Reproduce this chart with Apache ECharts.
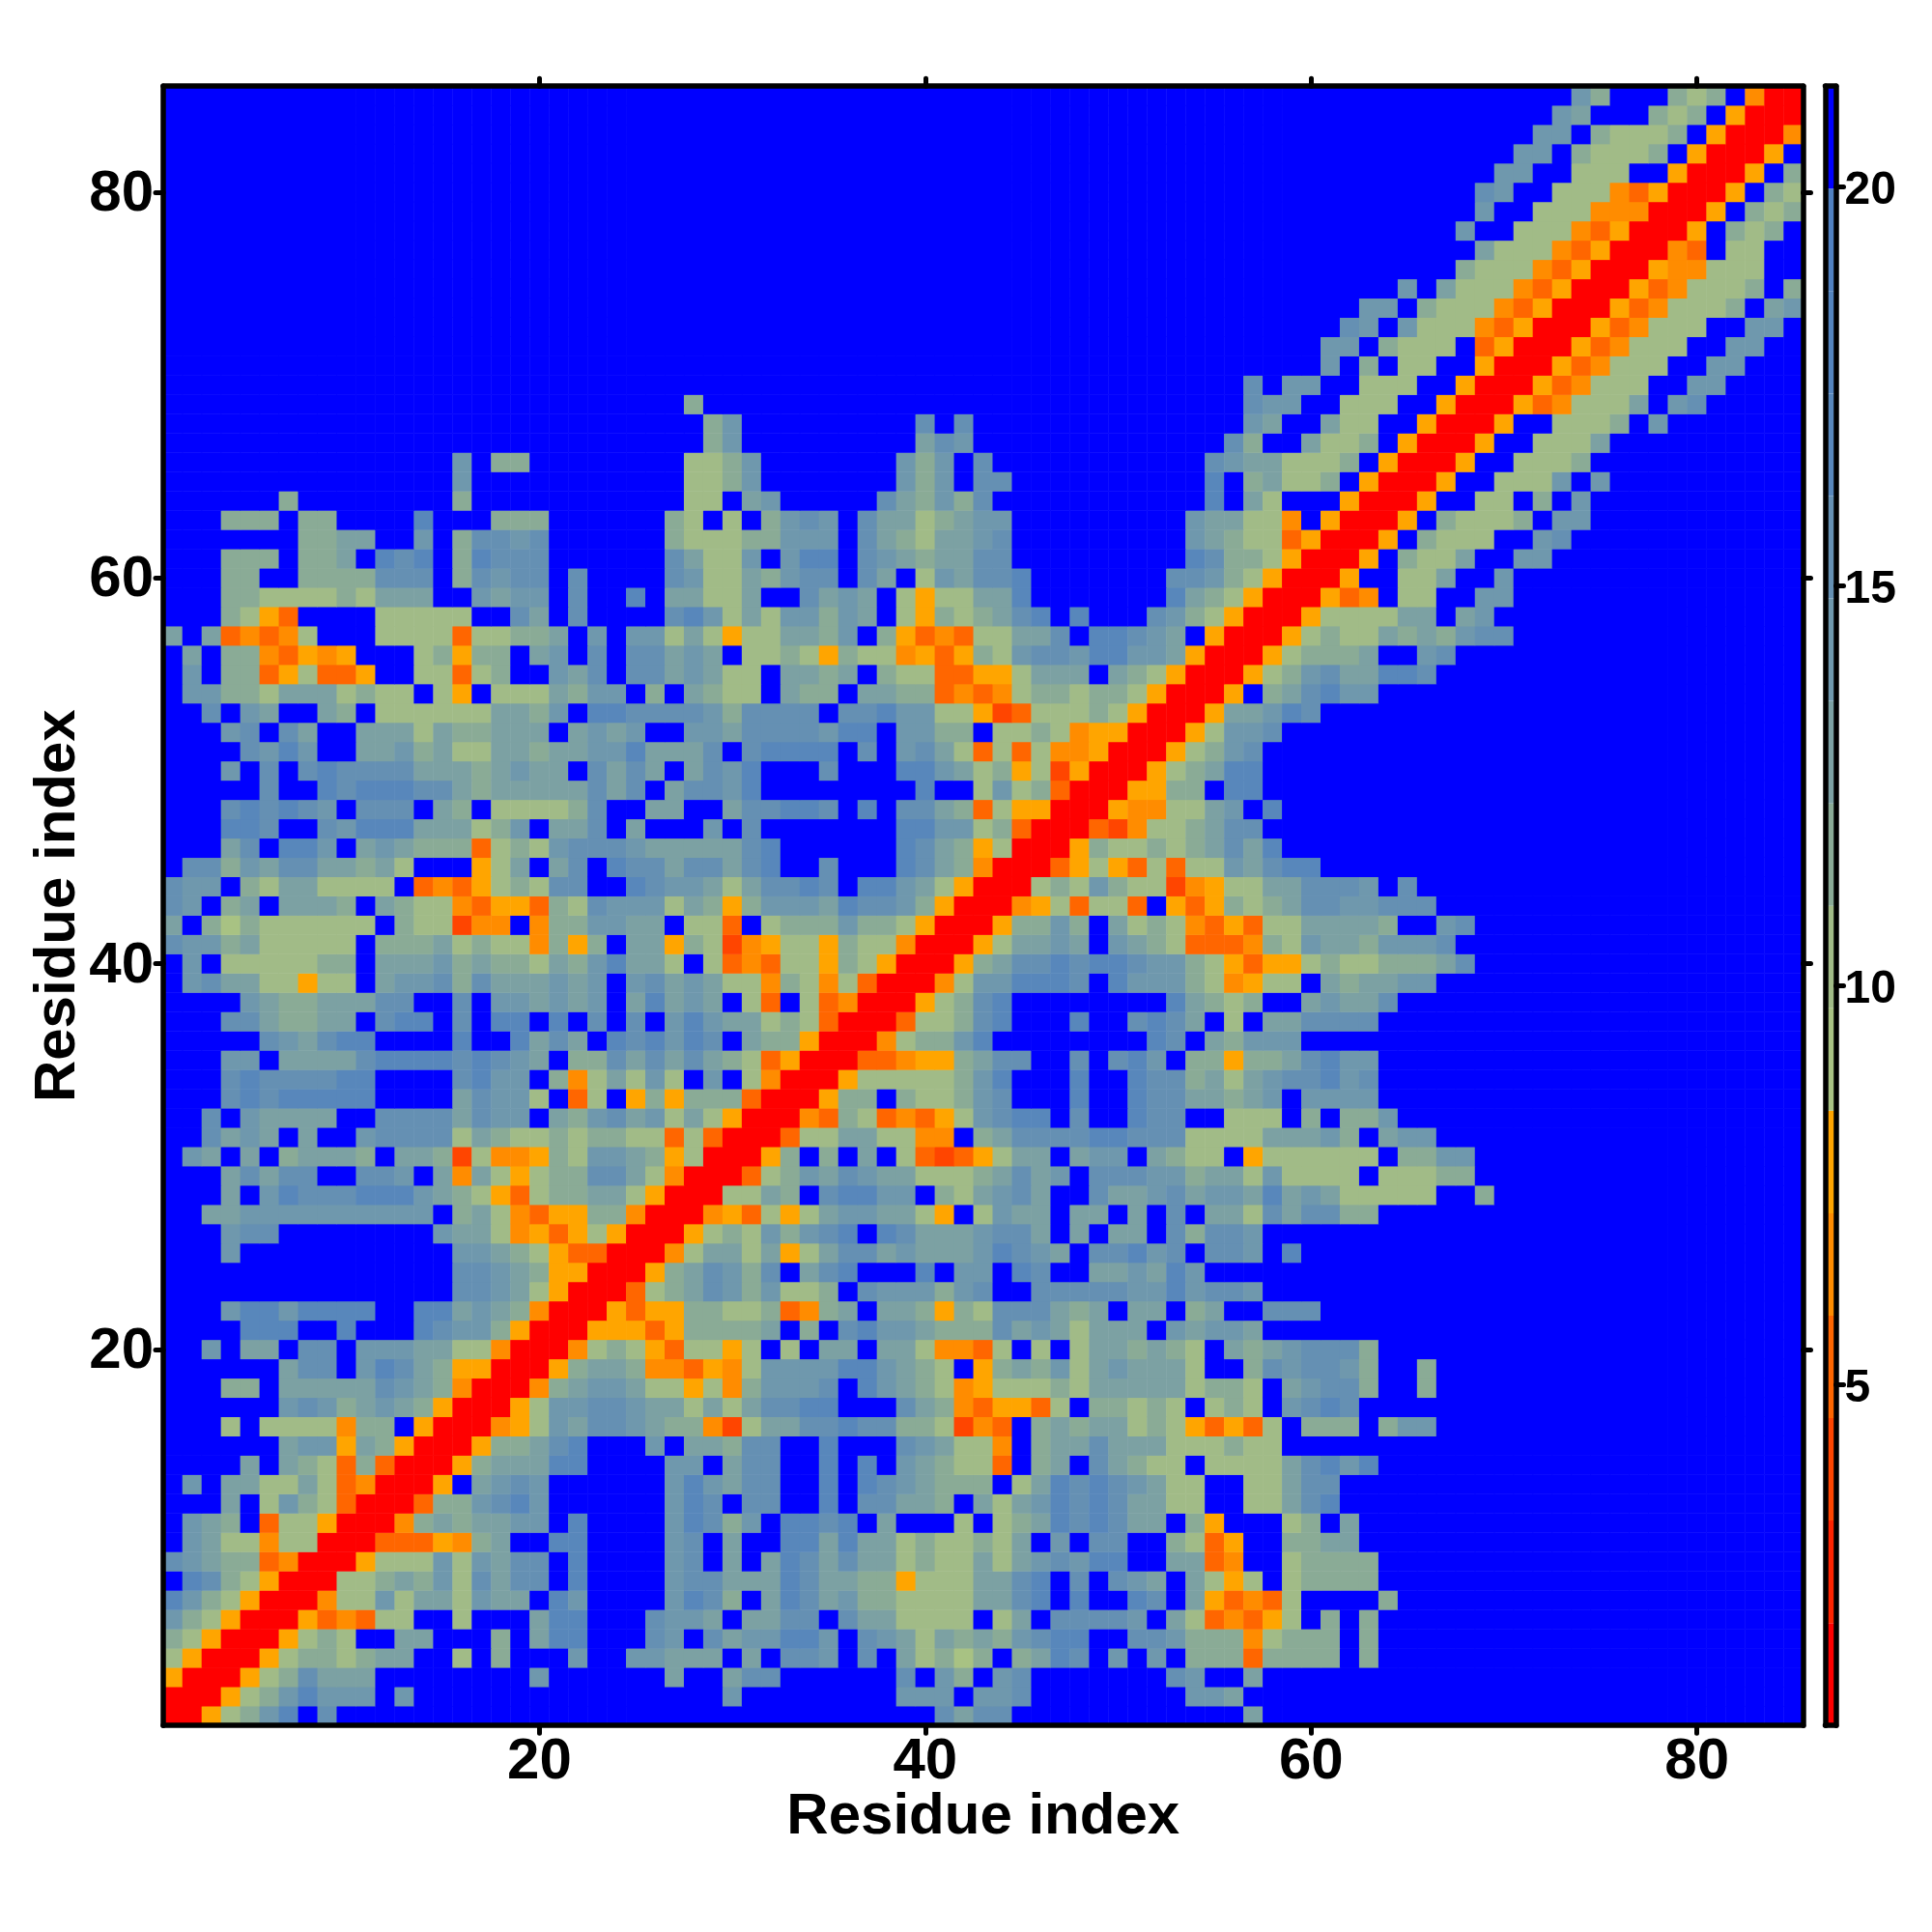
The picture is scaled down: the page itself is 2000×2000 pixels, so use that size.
<!DOCTYPE html>
<html><head><meta charset="utf-8">
<style>html,body{margin:0;padding:0;background:#fff}#c{width:2000px;height:2000px}</style>
<script src="https://cdn.jsdelivr.net/npm/echarts@6/dist/echarts.min.js"></script>
</head><body><div id="c"></div>
<script>
// Lower-left triangle of the symmetric residue matrix.
// One line per residue y (85 down to 1), holding x = 1..y. Each hex digit is a colour-bar level (0 = red, f = blue); "f*73" = a run.
const triangleRows = [
"f*73 a8 fff 878 f 400",
"f*72 a9 fff 878 f 5 00",
"f*71 aa f 8 777 8 f 5 00",
"f*70 aa f 8 777 8 f 5 00",
"f*69 aa ff 777 ff 5 00",
"f*68 ba ff 777 4 3 5 00",
"f*68 a ff 777 444 00",
"f*67 a ff 777 435 00",
"f*68 9 777 435 00",
"f*67 8 777 435 00",
"f*64 a f 9 777 435 00",
"f*62 aa f 8 777 435 00",
"f*61 ba f a 777 435 00",
"f*60 aa f 8 777 f 35 00",
"f*60 a f 8 f 77 ff 5 00",
"f*56 b f aa ff 777 ff 5 00",
"f*27 8 f*28 b aa ff 777 ff 5 00",
"f*28 8a f*9 b f b f*14 a9 ff 9 77 ff 5 00",
"f*28 8a f*9 9ba f*13 b8 ff 9 77 8 f 5 00",
"f*15 a f 88 f*8 778a f*7 a8a f b f*11 ba99 777 8 f 5 00",
"f*15 a f*11 77 8a f*7 a8a f bb f*10 c f 89 77 8 f 5 00",
"f*6 8 f*8 8 f*11 77 f 9a f*5 b98a8b f*11 c f 97 fff 5 00",
"fff 888 f 88 ffff c fff 888 f*6 8 7 f 7 f 8 a b a f b 99 7 8 9 aa f*9 a 99 77 4 f 5 00",
"f*7 88 99 ff a f 8 bb a b f*6 8 777 88 aaa f b 9 8 7 99 a b f*9 a 9 8 77 3 5 00",
"fff 888 f 88 9 f cbc f 8 c bbb f*6 b 9 77 a f a cc f b a 9 8 99 bb f*9 c b 88 7 5 00",
"fff 88 ff 88 88 bbb f 8 b a bb f b ffff b a 77 9 8 a bb f b 9 f 7 a 9 bb c f*7 bb a 8 7 5 00",
"fff 88 7777 8 7 999 ff a 9 aa f b ff c f 99 77 9 ff b 9 a 9 f 7 5 77 99 c f*7 c 9 8 7 5 00",
"fff 8 7 5 3 ffff 77777 ff b 9 f b ffff b c a 7 9 7 aa 8 a 9 f 7 5 8 7 8 9 b c f c fff b a 8 7 5 00",
"9f9 3434 7 fff 7777 3 77 8 8 9 f a f aa 7 9 7 5 77 99 8 a f 8 5 3 4 3 77 99 b f cc b a 9 f 5 00",
"f9f 88 4 3 5 4 5 fff 7 8 5 88 f 9 a f b f bb 9 a 9 f 77 8 7 5 8 77 4 5 3 5 8 7 a bb a cc aa 9 5 00",
"f a f 88 3 5 7 33 5 ff 77 3 7 8 ff a 9 b f bb 9 a 9 7 7 f 99 8 9 f 8 77 33 55 7 999 f 9 8 7 5 00",
"f aa 88 7 999 7 8 77 f 7 5 f 777 9 8 aa f 8 f 9 8 77 f 988 f 99 88 3434 7 88 7 88 7 5 00",
"ff b f a 9 ff 9 8 f 777777 99 8 a f cc bbbb a 8 bbbb f bb c aa 77 5 2 3 777 8 7 5 00",
"fff a b f b 9 ff 999 7 9 88 999 f 9 a 9 a ff aa 9 b bbb a cc f aa 88 f 77 8 7 4 55 00",
"ffff b a c a ff 99 a 8 9 77 99 8 99 aa c 999 b f b cccc f b f a b 9 7 3 7 3 7 44 5 00",
"fff a f b f b c bbbb 999 8 9 a 99 f b 9 b 9 f 9 b a c fff b fff cc a 9 7 8 5 7 2 5 00",
"f*5 b ff c b ccc bb 9 8 99999 b 9 b f 9 bb a c f*8 c ff 7 a 7 8 3 00",
"fff b c b c b a f bbb f 9 8 f 7777 8 b ff 99 ff 9 bb cc b f c f bb 9 8 3 7 55 00",
"fff cc b ff b a ccc 999 7 8 a f 99 b f 9 fff a f b f*7 cc aa 7 8 3 00",
"fff 9 b f cc a f 9 a 9 888 3 7 8 7 a bbb a 999 99 b c f*6 c b 9 8 5 7 00",
"f bb 8 a 9 bb 99 8 9 7 fff 5 7 9 f 9 b f c bb 9 bb 9 b c ff b fff c b 9 8 4 00",
"b aa f 8 7 99 7777 f 3 4 3 5 7 8 7 bb ff c b aa 9 7 9 bb c b f cc a 9 7 5 00",
"b a f 8 9 f 999 8 f 9 8 77 4 3 55 3 8 7 b aaa 7 9 8 5 8 aaa 9 c bb a 8 5 00",
"9 f 8 6 8 777777 f 8 77 2 44 f 4 88 aa 99 f 77 3 f 7 888 a 88 7 5 00",
"b aa 8 9 77777 f 888 9 7 8 77 4 8 5 8 f 99 5 8 7 2 4 5 77 5 8 77 4 00",
"f a f 77777 88 f 999 a 8 9 88 7 9 8 a c 99 7 f 7 3 4 3 77 5 8 7 5 00",
"f a b 99 77 5 77 f 9 aa b 8 b 999 a 9 a f a b 9 a 9 77 4 8 7 4 7 3 00",
"ffff a 9 88 999 bb ff b f aa 9 a 9 a f 9 c 9 a 9 f 7 3 f 7 3 4 00",
"fff bb 9 88 99 f b cc f b f cc f c f b f b f a c a 99 7 8 7 3 00",
"f*5 b a 9 b cc ffff c ff c 9 b 9 f c b c a c b f 9 88 5 00",
"fff aa f 9999 b cccc b c b a 9 f 88 b 9 b 9 b 9 8 7 3 5 00",
"fff b c bbbb cc ffff b c aa f 8 4 7 9 7 a 7 f a f 7 4 00",
"fff b c b ccccc ffff 9 b aa 7 f 3 7 f 5 8 5 88 8 3 00",
"ff b f a 9999 ff bbbb 9 b aa f 9 8 a b 9 a 7 9 7 5 00",
"ff b 9 a 9 f 9 ff a bbbb 7 9 8 77 8 7 88 77 3 7 3 00",
"f a 9 f 9 f 8 999 8 f 99 8 2 7 44 5 8 7 aa 9 8 5 7 00",
"fff 9 b 9 bb ff bb a f 9 4 9 7 5 7 88 bb 9 7 4 00",
"fff 9 f a cbbbccc a 9 8 7 5 3 7 88 99 7 5 00",
"ff 99 aaaaaaaaaa f 8 9 7 4 3 55 88 4 00",
"fff a bb f*8 a 99 7 4 5 3 5 7 5 00",
"fff a f*11 aa 9 8 7 5 33 00",
"f*15 bb a 9 8 55 00",
"f*15 bb a 9 7 5 00",
"fff a cc a cccc ff cc 9 a 9 8 4 00",
"ffff ccc ff c fff c b aa 8 5 00",
"ff a f 99 f bb f aaa 99 77 4 00",
"f*6 9 bb f a c b 9 8 55 00",
"fff 88 f 9 999 9 b a 9 8 4 00",
"f*6 a b a 8 9 a 9 8 5 00",
"fff 7 f 7777 4 88 f 5 00",
"f*6 9 aa 5 9 8 5 00",
"ffff 9 f 9 8 7 3 8 3 00",
"f a f 99 77 9 7 3 4 00",
"fff 9 f 7 a 8 7 3 00",
"f a 9 8 f 3 77 5 00",
"f a 9 77 4 77 00",
"b a 9 88 3 4 00",
"f c b 8 7 5 00",
"c a 8 7 5 00",
"a 8 7 5 00",
"8 7 5 00",
"7 5 00",
"5 00",
"00",
"0"
];
const residues = Array.from({length: 85}, (_, i) => String(i + 1));
const residueTicks = [20, 40, 60, 80];
const barTicks = [5, 10, 15, 20];
const levelColors = ["#ff0000","#ff2400","#ff4500","#ff6600","#ff8c00","#ffa500","#a8c283","#a1bb87","#8aab96","#7ca1a3","#6f98ad","#6590b3","#5887bb","#5484be","#5080c0","#0000ff"];
const barMin = 0.73, barMax = 21.26;

const FONT = '"Liberation Sans", Arial, sans-serif';
const step = (barMax - barMin) / levelColors.length;
const levelValue = k => barMin + (k + 0.5) * step;

// expand the triangle, then mirror it: a residue distance matrix is symmetric
const cells = {};
triangleRows.forEach((line, r) => {
  const y = 85 - r;
  let s = "";
  line.trim().split(/\s+/).forEach(t => {
    const m = t.match(/^(.)\*(\d+)$/);
    s += m ? m[1].repeat(+m[2]) : t;
  });
  for (let i = 0; i < y; i++) {
    const k = parseInt(s[i], 16);
    cells[i + "," + (y - 1)] = k;
    cells[(y - 1) + "," + i] = k;
  }
});
const heat = [];
for (let yi = 0; yi < 85; yi++) for (let xi = 0; xi < 85; xi++) heat.push([xi, yi, levelValue(cells[xi + "," + yi])]);
const barCells = levelColors.map((c, k) => [barMin + k * step, barMin + (k + 1) * step, levelValue(k)]);

const frame = {show: true, onZero: false, lineStyle: {color: "#000", width: 5.5, cap: "round"}};
const tickStyle = {color: "#000", width: 5, cap: "round"};
const isTick = (i, v) => residueTicks.includes(+v);
const residueAxis = (extra) => Object.assign({
  type: "category", data: residues, gridIndex: 0, z: 5,
  axisLine: frame, splitLine: {show: false}, splitArea: {show: false},
  axisTick: {show: true, alignWithLabel: true, interval: isTick, length: 8, lineStyle: tickStyle},
  axisLabel: {show: false}
}, extra);
const tickLabel = (size, margin, extra) => Object.assign({show: true, interval: isTick, margin, fontFamily: FONT, fontWeight: "bold", fontSize: size, color: "#000", hideOverlap: false}, extra);
const nameStyle = {fontFamily: FONT, fontWeight: "bold", fontSize: 60, color: "#000"};

const chart = echarts.init(document.getElementById("c"), null, {renderer: "canvas"});
chart.setOption({
  animation: false,
  backgroundColor: "#fff",
  grid: [
    {left: 169, top: 89.2, width: 1697.5, height: 1697},
    {left: 1889.5, top: 89.2, width: 11, height: 1697}
  ],
  xAxis: [
    residueAxis({position: "bottom", axisLabel: tickLabel(60, 8), name: "Residue index", nameLocation: "middle", nameGap: 65, nameMoveOverlap: false, nameTextStyle: nameStyle}),
    residueAxis({position: "top"}),
    {type: "value", gridIndex: 1, min: 0, max: 1, position: "bottom", z: 5, axisLine: frame, axisTick: {show: false}, axisLabel: {show: false}, splitLine: {show: false}},
    {type: "value", gridIndex: 1, min: 0, max: 1, position: "top", z: 5, axisLine: frame, axisTick: {show: false}, axisLabel: {show: false}, splitLine: {show: false}}
  ],
  yAxis: [
    residueAxis({position: "left", axisLabel: tickLabel(60, 10, {verticalAlign: "top", lineHeight: 5}), name: "Residue index", nameLocation: "middle", nameGap: 79, nameMoveOverlap: false, nameTextStyle: nameStyle}),
    residueAxis({position: "right"}),
    {type: "value", gridIndex: 1, min: barMin, max: barMax, position: "left", z: 5, axisLine: frame, axisTick: {show: false}, axisLabel: {show: false}, splitLine: {show: false}},
    {type: "value", gridIndex: 1, min: barMin, max: barMax, position: "right", z: 5, axisLine: frame, splitLine: {show: false},
      axisTick: {show: true, length: 8, customValues: barTicks, lineStyle: tickStyle},
      axisLabel: {show: true, customValues: barTicks, margin: 9, verticalAlign: "top", lineHeight: 9, fontFamily: FONT, fontWeight: "bold", fontSize: 48, color: "#000"}}
  ],
  visualMap: {
    type: "piecewise", show: false, seriesIndex: [0, 1], dimension: 2,
    pieces: levelColors.map((color, k) => ({gte: barMin + k * step, lt: barMin + (k + 1) * step, color}))
  },
  series: [
    {type: "heatmap", xAxisIndex: 0, yAxisIndex: 0, data: heat, progressive: 0, silent: true, emphasis: {disabled: true}},
    {type: "custom", xAxisIndex: 2, yAxisIndex: 2, data: barCells, silent: true, encode: {y: [0, 1]},
      renderItem(params, api) {
        const a = api.coord([0, api.value(0)]), b = api.coord([1, api.value(1)]);
        return {type: "rect", shape: {x: a[0], y: b[1], width: b[0] - a[0], height: a[1] - b[1]}, style: {fill: api.visual("color")}};
      }}
  ]
});
</script></body></html>
